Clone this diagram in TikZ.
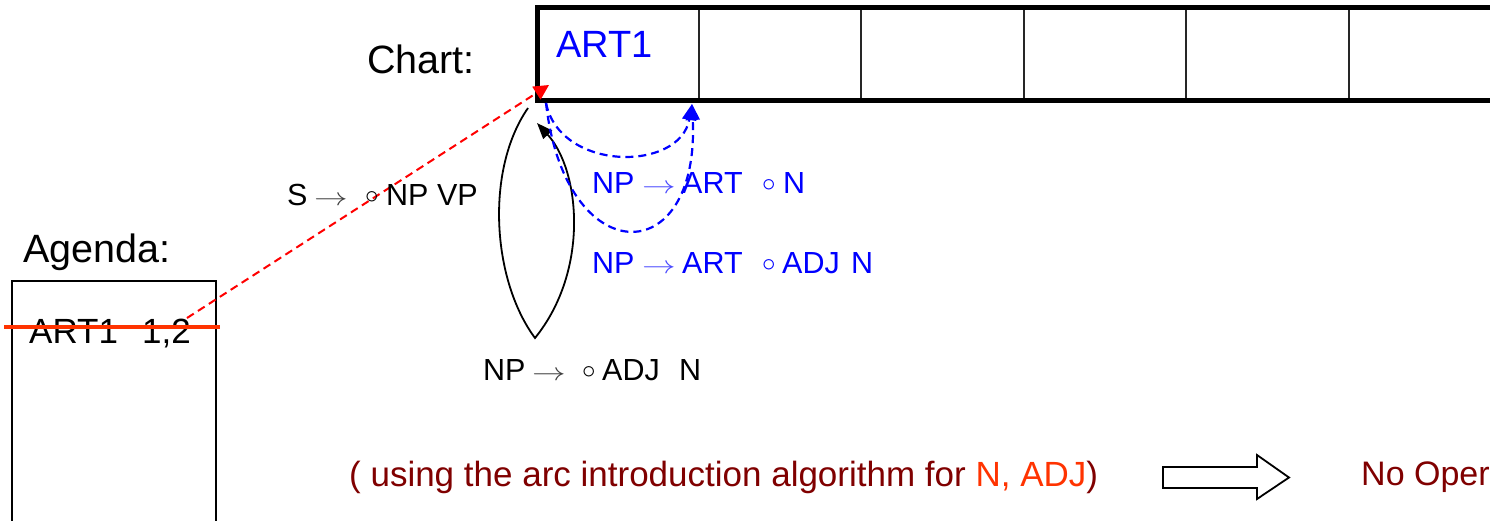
\documentclass[tikz,border=0pt]{standalone}
\usepackage{fontspec}
\setmainfont{Liberation Sans}
\usetikzlibrary{arrows.meta}
\definecolor{darkred}{RGB}{128,0,0}
\definecolor{orred}{RGB}{255,51,0}
\newcommand\myarr{\scalebox{1.35}[1]{$\rightarrow$}}
\newcommand\mycirc{\raisebox{2pt}{\scalebox{1.3}{$\scriptstyle\circ$}}}
\newcommand\at[2]{\rlap{#2}\hspace{#1pt}}
\begin{document}
\begin{tikzpicture}[x=1pt,y=-1pt,
  lbl/.style={font=\fontsize{39.5}{44}\selectfont, inner sep=0, anchor=base west},
  big/.style={font=\fontsize{38}{44}\selectfont, inner sep=0, anchor=base west},
  small/.style={font=\fontsize{30.5}{34}\selectfont, inner sep=0, anchor=base west},
  note/.style={font=\fontsize{35}{40}\selectfont, inner sep=0, anchor=base west, text=darkred},
  reddash/.style={draw=red, line width=2, dash pattern=on 8 off 5},
  bluedash/.style={draw=blue, line width=2.2, dash pattern=on 8 off 5, -{Triangle[length=16,width=14]}},
  loop/.style={draw=black, line width=1.8, -{Triangle[length=16,width=12]}},
  divider/.style={draw=black!85, line width=2.2}]
\clip (0,0) rectangle (1490,520);
\fill[white] (0,0) rectangle (1490,520);

% Chart
\foreach \x in {699,861,1024,1186,1349} \draw[divider] (\x,8) -- (\x,100);
\draw[line width=5, line join=miter] (1500,7.5) -- (537.5,7.5) -- (537.5,100.5) -- (1500,100.5);
\node[lbl] (chartlbl) at (367,73) {Chart:};
\node[big, text=blue] (art1) at (556,57) {ART1};
\coordinate (cellA) at (549,85);
\coordinate (cellB) at (546,103);
\coordinate (cellC) at (692,104);
\coordinate (loopS) at (528,108);
\coordinate (loopB) at (535,338);
\coordinate (loopE) at (537,123);

% Agenda
\node[lbl] (agendalbl) at (23,262) {Agenda:};
\draw[line width=2] (12,530) -- (12,281) -- (216,281) -- (216,530);
\node[big, font=\fontsize{35}{40}\selectfont] (agitem) at (29,343) {\at{113}{ART1}1,2};
\draw[orred, line width=4] (4,327) -- (220,327);
\coordinate (agend) at (187,318);

% red dashed arrow
\draw[reddash, -{Triangle[length=15,width=15]}] (agend) -- (cellA);

% black loop
\draw[loop] (loopS) .. controls (485,170) and (492,280) .. (loopB)
  .. controls (590,270) and (580,170) .. (loopE);

% blue dashed arrows
\draw[bluedash] (cellB) .. controls (560,172) and (680,172) .. (cellC);
\draw[bluedash] (cellB) .. controls (565,272) and (700,272) .. (cellC);

% rules
\node[small] (rS) at (287,205) {\at{27}{S}\at{51}{\color{black!75}\myarr}\at{21}{\mycirc}NP VP};
\node[small, text=blue] (r1) at (592,193) {\at{50}{NP}\at{40}{\color{blue!70}\myarr}\at{80}{ART}\at{21}{\mycirc}N};
\node[small, text=blue] (r2) at (592,273) {\at{50}{NP}\at{40}{\color{blue!70}\myarr}\at{80}{ART}\at{20}{\mycirc}\at{69}{ADJ}N};
\node[small] (r3) at (483,380) {\at{49}{NP}\at{50}{\color{black!75}\myarr}\at{20}{\mycirc}\at{77}{ADJ}N};

% bottom line
\node[note] (note) at (349,486) {( using the arc introduction algorithm for \textcolor{orred}{N, ADJ})};
\draw[line width=1.8, line join=miter] (1163,467) -- (1257,467) -- (1257,455) -- (1289,477.5) -- (1257,499) -- (1257,488) -- (1163,488) -- cycle;
\node[note, font=\fontsize{34}{40}\selectfont] (noop) at (1361,485) {No Oper};
\end{tikzpicture}
\end{document}
